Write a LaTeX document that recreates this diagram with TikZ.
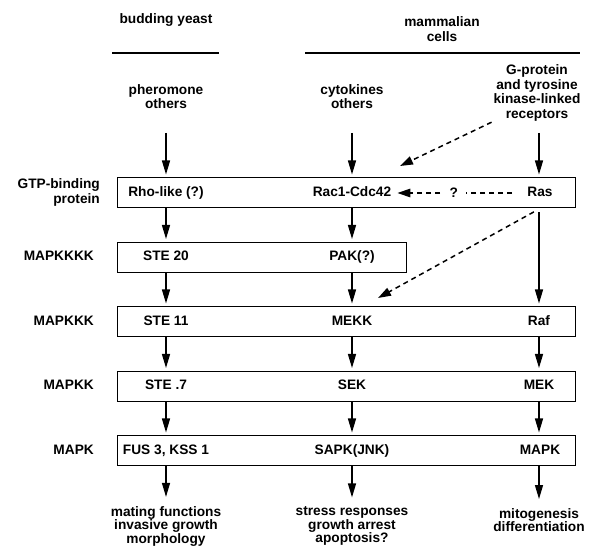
\documentclass[tikz,border=0pt]{standalone}
\usepackage{fontspec}
\setmainfont{Liberation Sans}
\usetikzlibrary{arrows.meta}

\begin{document}
\begin{tikzpicture}[x=1pt, y=-1pt,
  every node/.style={font=\fontsize{13.7}{14.5}\selectfont\bfseries, inner sep=0pt},
  lbl/.style={text height=10pt, text depth=3pt},
  box/.style={draw, line width=1pt, minimum height=30pt},
  arr/.style={line width=1.3pt, -{Triangle[length=14pt,width=8pt]}, shorten >=3pt},
  dasharr/.style={line width=1.5pt, dash pattern=on 5pt off 4pt, -{Triangle[length=13pt,width=8.5pt]}},
  rule/.style={line width=1.4pt}]
\useasboundingbox (0,0) rectangle (590,548);

% columns and the level where the input arrows start
\coordinate (colL) at (166,0);
\coordinate (colM) at (352,0);
\coordinate (colR) at (539,0);
\coordinate (top) at (0,133);
\coordinate (racIn) at (400,166);
\coordinate (mekkIn) at (378,298);

% headings
\node[lbl] (yeast) at (166,20) {budding yeast};
\node[align=center] (mammal) at (442,29) {mammalian\\cells};
\draw[rule] (112,53) -- (219,53);
\draw[rule] (305,53) -- (580,53);

% inputs
\node[align=center] (pher) at (166,96.5) {pheromone\\others};
\node[align=center] (cyto) at (352,96.5) {cytokines\\others};
\node[align=center] (gprot) at (537,93) {G-protein\\and tyrosine\\kinase-linked\\receptors};

% row labels
\node[anchor=east, align=right] (lgtp) at (100,192.5) {GTP-binding\\protein};
\node[lbl, anchor=east] (lkkkk) at (94,257.5) {MAPKKKK};
\node[lbl, anchor=east] (lkkk) at (94,322) {MAPKKK};
\node[lbl, anchor=east] (lkk) at (94,386.5) {MAPKK};
\node[lbl, anchor=east] (lk) at (94,451) {MAPK};

% boxes
\node[box, minimum width=458pt] (gtp) at (346,193) {};
\node[box, minimum width=289pt] (kkkk) at (261.5,257.5) {};
\node[box, minimum width=458pt] (kkk) at (346,322) {};
\node[box, minimum width=458pt] (kk) at (346,386.5) {};
\node[box, minimum width=458pt] (mapk) at (346,451) {};

% entries
\node[lbl] (rho) at (166,193) {Rho-like (?)};
\node[lbl] (rac) at (352,193) {Rac1-Cdc42};
\node[lbl] (ras) at (540,193) {Ras};
\node[lbl] (ste20) at (166,257.5) {STE 20};
\node[lbl] (pak) at (352,257.5) {PAK(?)};
\node[lbl] (ste11) at (166,322) {STE 11};
\node[lbl] (mekk) at (352,322) {MEKK};
\node[lbl] (raf) at (539,322) {Raf};
\node[lbl] (ste7) at (166,386.5) {STE .7};
\node[lbl] (sek) at (352,386.5) {SEK};
\node[lbl] (mek) at (539,386.5) {MEK};
\node[lbl] (fus) at (166,451) {FUS 3, KSS 1};
\node[lbl] (sapk) at (352,451) {SAPK(JNK)};
\node[lbl] (erk) at (540,451) {MAPK};

% outputs
\node[align=center, font=\fontsize{13.7}{13.5}\selectfont\bfseries] (mating) at (166,526) {mating functions\\invasive growth\\morphology};
\node[align=center, font=\fontsize{13.7}{13.5}\selectfont\bfseries] (stress) at (352,526) {stress responses\\growth arrest\\apoptosis?};
\node[align=center, font=\fontsize{13.7}{13.5}\selectfont\bfseries] (mito) at (539,520) {mitogenesis\\differentiation};

% yeast column
\draw[arr] (pher.south |- top) -- (colL |- gtp.north);
\draw[arr] (colL |- gtp.south) -- (colL |- kkkk.north);
\draw[arr] (colL |- kkkk.south) -- (colL |- kkk.north);
\draw[arr] (colL |- kkk.south) -- (colL |- kk.north);
\draw[arr] (colL |- kk.south) -- (colL |- mapk.north);
\draw[arr, shorten >=9pt] (colL |- mapk.south) -- (mating.north);

% middle column
\draw[arr] (cyto.south |- top) -- (colM |- gtp.north);
\draw[arr] (colM |- gtp.south) -- (colM |- kkkk.north);
\draw[arr] (colM |- kkkk.south) -- (colM |- kkk.north);
\draw[arr] (colM |- kkk.south) -- (colM |- kk.north);
\draw[arr] (colM |- kk.south) -- (colM |- mapk.north);
\draw[arr, shorten >=9pt] (colM |- mapk.south) -- (stress.north);

% right column
\draw[arr] (colR |- top) -- (colR |- gtp.north);
\draw[arr, shorten <=4pt] (colR |- gtp.south) -- (colR |- kkk.north);
\draw[arr] (colR |- kkk.south) -- (colR |- kk.north);
\draw[arr] (colR |- kk.south) -- (colR |- mapk.north);
\draw[arr, shorten >=9pt] (colR |- mapk.south) -- (mito.north);

% uncertain links
\draw[dasharr, shorten <=2pt] (gprot.south west) -- (racIn);
\draw[dasharr, shorten <=15pt, shorten >=6pt] (ras.west) -- (rac.east)
  node[pos=0.54, fill=white, inner xsep=8pt, inner ysep=2pt] (unk) {?};
\draw[dasharr, shorten <=7pt] (ras.south |- gtp.south) -- (mekkIn);
\end{tikzpicture}
\end{document}
